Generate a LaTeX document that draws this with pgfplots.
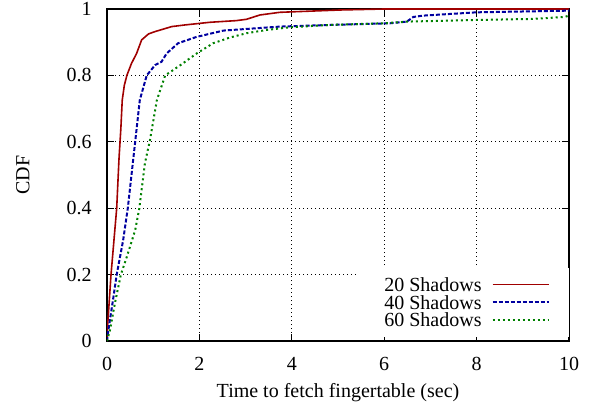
\documentclass[border=0pt]{standalone}
\usepackage{pgfplots}
\pgfplotsset{compat=1.18}
\usepackage{fontspec}
\setmainfont{Liberation Serif}
\definecolor{cred}{RGB}{160,0,0}
\definecolor{cblue}{RGB}{0,0,160}
\definecolor{cgreen}{RGB}{0,128,0}
\begin{document}
\begin{tikzpicture}
\begin{axis}[
  scale only axis, width=231pt, height=166pt,
  xmin=0, xmax=10, ymin=0, ymax=1,
  xtick={0,2,4,6,8,10}, ytick={0,0.2,0.4,0.6,0.8,1},
  /pgf/number format/assume math mode=true,
  font=\fontsize{10}{12}\selectfont,
  tick label style={font=\fontsize{10}{12}\selectfont},
  xticklabel style={yshift=-4.4pt},
  yticklabel style={xshift=-4.2pt},
  tick align=inside, major tick length=3.5pt,
  tick style={black, line width=0.5pt},
  axis line style={line width=0.6pt},
  grid=major, grid style={black, line width=0.4pt, dash pattern=on 0.5pt off 1.5pt},
  xlabel={Time to fetch fingertable (sec)},
  ylabel={CDF},
  xlabel style={at={(rel axis cs:0.5,0)}, anchor=center, yshift=-26pt},
  ylabel style={at={(axis description cs:-0.182,0.5)}, anchor=center},
  legend plot pos=right, legend cell align=right,
  legend image code/.code={\draw[#1] (0pt,0pt) -- (28pt,0pt);},
  legend style={at={(rel axis cs:1,0)}, anchor=south east, yshift=2pt,
    fill=white, draw=none, inner xsep=9.5pt, inner ysep=3.5pt,
    column sep=5pt, row sep=-1.25pt,
    nodes={inner sep=0pt, text height=8.5pt, text depth=1.5pt},
    cells={anchor=east},
    font=\fontsize{10}{12}\selectfont},
]
\addplot[cred, line width=0.8pt] coordinates {
(0,0) (0.015,0.05) (0.087,0.2) (0.21,0.4) (0.26,0.55) (0.30,0.64) (0.33,0.726)
(0.375,0.77) (0.43,0.80) (0.53,0.836) (0.64,0.866) (0.75,0.907) (0.9,0.925)
(1.04,0.932) (1.4,0.947) (1.69,0.952) (2.23,0.96) (2.8,0.965) (3.02,0.969)
(3.31,0.982) (3.74,0.99) (5.04,0.997) (6.0,1.0) (10,1.0)};
\addlegendentry{\hspace*{4pt}20 Shadows}
\addplot[cblue, line width=1pt, dash pattern=on 2pt off 1pt] coordinates {
(0,0) (0.03,0.033) (0.14,0.133) (0.21,0.2) (0.35,0.304) (0.45,0.4) (0.61,0.6)
(0.71,0.726) (0.86,0.8) (1.04,0.831) (1.18,0.841) (1.29,0.866) (1.54,0.897)
(1.94,0.916) (2.52,0.935) (3.74,0.947) (4.83,0.952) (6.13,0.957) (6.49,0.962)
(6.63,0.976) (6.84,0.98) (8.0,0.99) (10,0.995)};
\addlegendentry{40 Shadows}
\addplot[cgreen, line width=1pt, dash pattern=on 1pt off 1.5pt] coordinates {
(0,0) (0.065,0.033) (0.17,0.113) (0.30,0.2) (0.43,0.254) (0.61,0.334) (0.70,0.4)
(0.82,0.535) (0.93,0.605) (1.08,0.726) (1.26,0.8) (1.6,0.832) (1.94,0.866)
(2.3,0.897) (2.66,0.914) (3.02,0.927) (3.46,0.937) (3.96,0.945) (4.83,0.952)
(6.0,0.957) (6.49,0.962) (8.0,0.967) (9.2,0.97) (9.9,0.976) (10,0.98)};
\addlegendentry{60 Shadows}
\end{axis}
\pgfresetboundingbox
\path ([shift={(-53.5pt,-32.5pt)}]current axis.south west) rectangle ([shift={(11.5pt,4.5pt)}]current axis.north east);
\end{tikzpicture}
\end{document}
